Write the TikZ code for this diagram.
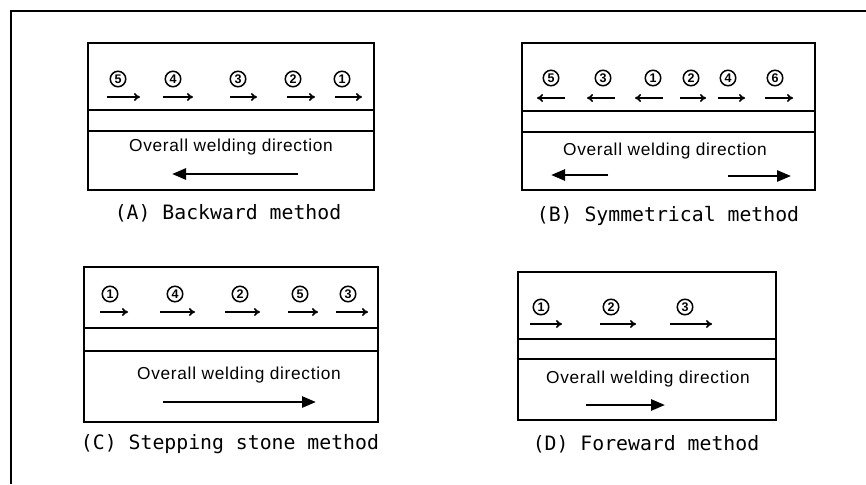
\documentclass[tikz,border=0pt]{standalone}
\usepackage{fontspec}
\usepackage{tikz}
\usetikzlibrary{arrows.meta}
\newfontfamily\dirfont[LetterSpace=4]{Liberation Sans}
\newfontfamily\capfont{DejaVu Sans Mono}
\newfontfamily\numfont{Liberation Sans}
\tikzset{
  frame/.style   = {line width=2pt},
  plate/.style   = {line width=1.7pt},
  num/.style     = {circle, draw, line width=1.5pt, minimum size=15.5pt, inner sep=0pt,
                    font=\numfont\bfseries\fontsize{12.5}{12.5}\selectfont},
  pass/.style    = {-{To[length=6pt,width=8pt]}, line width=1.7pt},
  overall/.style = {-{Triangle[length=14pt,width=11pt]}, line width=2.6pt},
  dir/.style     = {font=\dirfont\fontsize{17.3}{20}\selectfont},
  capt/.style    = {font=\capfont\fontsize{19.8}{22}\selectfont},
}

\begin{document}
\begin{tikzpicture}[x=1pt, y=-1pt]
  \useasboundingbox (0,0) rectangle (866,484);
  \draw[frame] (866,11) -- (11,11) -- (11,484);

  % (A) backward
  \draw[plate] (88,43) rectangle (374,190);
  \draw[plate] (88,110) -- (374,110) (88,131) -- (374,131);
  \foreach \x/\n/\a/\b in {118/5/107/140, 173/4/163/193, 238/3/230/257, 293/2/287/315, 342/1/335/362} {
    \node[num] (A\n) at (\x,79) {\n};
    \coordinate (A\n s) at (\a,97);
    \coordinate (A\n e) at (\b,97);
    \draw[pass] (A\n s) -- (A\n e);
  }
  \node[dir] (dirA) at (231,147) {Overall welding direction};
  \coordinate (bigAs) at (298,174);
  \coordinate (bigAe) at (172,174);
  \draw[overall] (bigAs) -- (bigAe);
  \node[capt] (capA) at (228,213) {(A) Backward method};

  % (B) symmetrical
  \draw[plate] (522,43) rectangle (815,190);
  \draw[plate] (522,111) -- (815,111) (522,132) -- (815,132);
  \foreach \x/\n/\a/\b in {551/5/565/537, 603/3/615/587, 653/1/663/635, 691/2/680/706, 728/4/718/745, 775/6/765/793} {
    \node[num] (B\n) at (\x,78) {\n};
    \coordinate (B\n s) at (\a,98);
    \coordinate (B\n e) at (\b,98);
    \draw[pass] (B\n s) -- (B\n e);
  }
  \node[dir] (dirB) at (665,151) {Overall welding direction};
  \coordinate (bigBm) at (608,175);
  \coordinate (bigBl) at (551,175);
  \coordinate (bigBn) at (728,176);
  \coordinate (bigBr) at (791,176);
  \draw[overall] (bigBm) -- (bigBl);
  \draw[overall] (bigBn) -- (bigBr);
  \node[capt] (capB) at (668,216) {(B) Symmetrical method};

  % (C) stepping stone
  \draw[plate] (84,267) rectangle (378,422);
  \draw[plate] (84,328) -- (378,328) (84,351) -- (378,351);
  \foreach \x/\n/\a/\b in {110/1/100/128, 175/4/160/195, 240/2/225/260, 300/5/288/318, 348/3/336/368} {
    \node[num] (C\n) at (\x,294) {\n};
    \coordinate (C\n s) at (\a,312);
    \coordinate (C\n e) at (\b,312);
    \draw[pass] (C\n s) -- (C\n e);
  }
  \node[dir] (dirC) at (239,375) {Overall welding direction};
  \coordinate (bigCs) at (163,402);
  \coordinate (bigCe) at (316,402);
  \draw[overall] (bigCs) -- (bigCe);
  \node[capt] (capC) at (230,444) {(C) Stepping stone method};

  % (D) foreward
  \draw[plate] (518,272) rectangle (776,420);
  \draw[plate] (518,339) -- (776,339) (518,359) -- (776,359);
  \foreach \x/\n/\a/\b in {541/1/530/562, 611/2/600/636, 685/3/670/712} {
    \node[num] (D\n) at (\x,307) {\n};
    \coordinate (D\n s) at (\a,324);
    \coordinate (D\n e) at (\b,324);
    \draw[pass] (D\n s) -- (D\n e);
  }
  \node[dir] (dirD) at (648,379) {Overall welding direction};
  \coordinate (bigDs) at (586,405);
  \coordinate (bigDe) at (665,405);
  \draw[overall] (bigDs) -- (bigDe);
  \node[capt] (capD) at (646,444) {(D) Foreward method};
\end{tikzpicture}
\end{document}
